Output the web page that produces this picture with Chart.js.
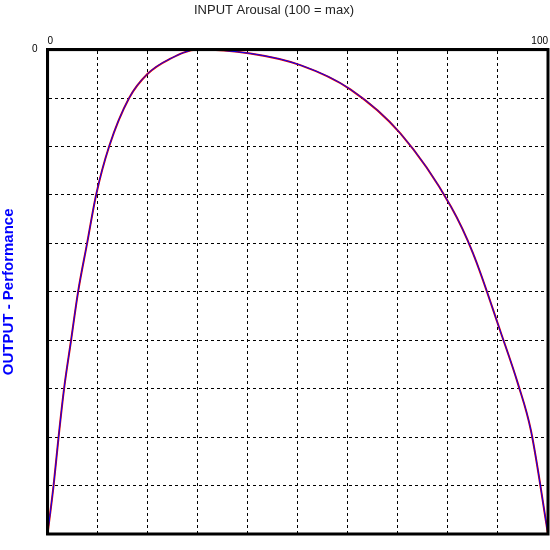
<!DOCTYPE html><html><head><style>html,body{margin:0;background:#fff}#w{width:550px;height:550px}</style>
<script src="https://cdn.jsdelivr.net/npm/chart.js@4"></script></head><body><div id="w"><canvas id="c"></canvas></div><script>
const arousal=[0,1.2,2.2,3.3,4.7,6.1,7.9,9.7,12.3,16.3,20,24.3,30,40.5,50.5,60.5,70.5,80.6,85,90.6,94,96.6,100];
const performance=[100,90,80,70,60,50,40,30,20,10,5,2,0,0.8,3.2,8.2,17.3,32.4,42,58.5,69,78.7,100];
const xTicks=[0,100];
const pts=arousal.map((x,i)=>({x,y:performance[i]}));
Chart.defaults.font.family='Liberation Sans, Arial, sans-serif';
new Chart(document.getElementById('c'),{type:'line',
data:{datasets:[
{data:pts,borderColor:'#0000ff',borderWidth:1,pointRadius:0,cubicInterpolationMode:'monotone'},
{data:pts,borderColor:'#e00000',borderWidth:2,pointRadius:0,cubicInterpolationMode:'monotone'}]},
options:{responsive:true,maintainAspectRatio:false,animation:false,
layout:{padding:{left:0,right:2,top:0,bottom:2}},
plugins:{legend:{display:false},tooltip:{enabled:false},
title:{display:true,text:'INPUT Arousal (100 = max)',color:'#222',font:{size:13,weight:'normal'},padding:{top:3,bottom:15}}},
scales:{
x:{type:'linear',position:'top',min:0,max:100,
grid:{color:'#000',lineWidth:1,drawTicks:false},
border:{dash:[3,3],color:'#000',width:3},
ticks:{stepSize:10,color:'#000',font:{size:10},padding:2,maxRotation:0,autoSkip:false,
callback:v=>xTicks.includes(v)?String(v):'',align:'inner'}},
y:{reverse:true,min:0,max:100,
grid:{color:'#000',lineWidth:1,drawTicks:false},
border:{dash:[3,3],color:'#000',width:3},
ticks:{stepSize:10,color:'#000',font:{size:10},padding:10,callback:v=>v===0?'0':''},
title:{display:true,text:'OUTPUT - Performance',color:'#0000ff',font:{size:15,weight:'bold'},padding:{top:0,bottom:4}}}}},
plugins:[{id:'frame',afterDraw(c){const a=c.chartArea,x=c.ctx;x.save();x.strokeStyle='#000';x.lineWidth=3;x.strokeRect(a.left,a.top,a.right-a.left,a.bottom-a.top);x.restore();}}]
});
</script></body></html>
